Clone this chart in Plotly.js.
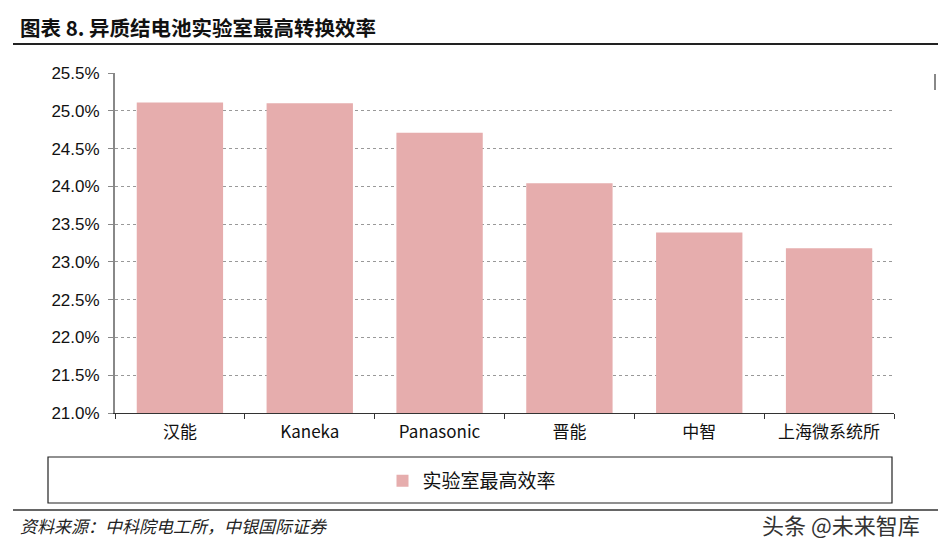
<!DOCTYPE html>
<html>
<head>
<meta charset="utf-8">
<script src="https://cdn.plot.ly/plotly-3.0.1.min.js"></script>
<style>html,body{margin:0;padding:0;background:#fff;}#chart{width:938px;height:552px;}</style>
</head>
<body>
<div id="chart"></div>
<script>
const categories = ["汉能", "Kaneka", "Panasonic", "晋能", "中智", "上海微系统所"];
const efficiency = [25.11, 25.10, 24.71, 24.04, 23.39, 23.18];
const seriesName = "实验室最高效率";
const chartTitle = "图表 8. 异质结电池实验室最高转换效率";
const sourceText = "资料来源：中科院电工所，中银国际证券";
const watermark = "头条 @未来智库";

const W = 938, H = 552;
const L = 115, R = 894, T = 73, B = 413;
const px = x => (x - L) / (R - L);
const py = y => (B - y) / (B - T);

const numFont = "'Liberation Sans Narrow', 'Arial Narrow', 'Liberation Sans', Arial, sans-serif";
const cjkFont = "'Liberation Sans Narrow', 'Noto Sans CJK SC', sans-serif";

const trace = {
  type: "bar",
  x: categories,
  y: efficiency,
  name: seriesName,
  marker: {color: "#E6ADAD"},
  hoverinfo: "x+y"
};

const layout = {
  width: W, height: H,
  margin: {l: L, r: W - R, t: T, b: H - B},
  paper_bgcolor: "#fff", plot_bgcolor: "#fff",
  bargap: 0.335,
  showlegend: true,
  legend: {
    orientation: "h", x: px(472), y: py(481), xanchor: "center", yanchor: "middle",
    font: {family: "'Noto Sans CJK SC', sans-serif", size: 19, color: "#111"},
    bgcolor: "rgba(0,0,0,0)", itemwidth: 30
  },
  xaxis: {
    type: "category",
    showline: true, linecolor: "#333", linewidth: 1,
    ticks: "outside", ticklen: 5, tickcolor: "#333", tickson: "boundaries",
    ticklabelstandoff: 4,
    tickfont: {family: cjkFont, size: 17, color: "#111"},
    showgrid: false, fixedrange: true
  },
  yaxis: {
    range: [21, 25.5], dtick: 0.5, tick0: 21,
    tickformat: ".1f", ticksuffix: "%",
    showline: true, linecolor: "#888", linewidth: 2,
    ticks: "outside", ticklen: 5, tickcolor: "#888",
    ticklabelstandoff: 5,
    showgrid: true, gridcolor: "#999", griddash: "dot", gridwidth: 1,
    tickfont: {family: numFont, size: 17, color: "#111"},
    zeroline: false, fixedrange: true
  },
  shapes: [
    {type: "line", xref: "paper", yref: "paper", x0: px(13), x1: px(938), y0: py(44), y1: py(44), line: {color: "#222", width: 2}},
    {type: "rect", xref: "paper", yref: "paper", x0: px(48), x1: px(892), y0: py(457), y1: py(503), line: {color: "#222", width: 1.2}, fillcolor: "rgba(0,0,0,0)"},
    {type: "line", xref: "paper", yref: "paper", x0: px(13), x1: px(938), y0: py(510), y1: py(510), line: {color: "#666", width: 2}},
    {type: "line", xref: "paper", yref: "paper", x0: px(935), x1: px(935), y0: py(74), y1: py(90), line: {color: "#888", width: 2}}
  ],
  annotations: [
    {text: "<b>" + chartTitle + "</b>", xref: "paper", yref: "paper", x: px(18), y: py(27), xanchor: "left", yanchor: "middle", showarrow: false,
     font: {family: "'Noto Sans CJK SC', sans-serif", size: 20.5, color: "#111"}},
    {text: "<i>" + sourceText + "</i>", xref: "paper", yref: "paper", x: px(18), y: py(525), xanchor: "left", yanchor: "middle", showarrow: false,
     font: {family: "'Noto Sans CJK SC', sans-serif", size: 17, color: "#222"}},
    {text: watermark, xref: "paper", yref: "paper", x: px(922), y: py(524), xanchor: "right", yanchor: "middle", showarrow: false,
     font: {family: "'Noto Sans CJK SC', sans-serif", size: 22, color: "#333"}}
  ]
};

Plotly.newPlot("chart", [trace], layout, {displayModeBar: false, staticPlot: true});
</script>
</body>
</html>
